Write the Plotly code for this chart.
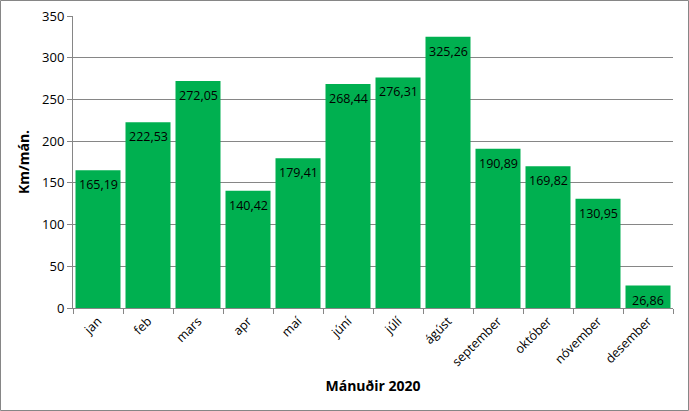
import plotly.graph_objects as go

months = ["jan", "feb", "mars", "apr", "maí", "júní", "júlí", "ágúst",
          "september", "október", "nóvember", "desember"]
km = [165.19, 222.53, 272.05, 140.42, 179.41, 268.44, 276.31, 325.26,
      190.89, 169.82, 130.95, 26.86]
y_ticks = [0, 50, 100, 150, 200, 250, 300, 350]

fig = go.Figure(go.Bar(
    x=months, y=km,
    marker=dict(color="#00B050", line=dict(width=0)),
    cliponaxis=False,
))

for m, v in zip(months, km):
    fig.add_annotation(
        x=m, y=v, text=f"{v:.2f}".replace(".", ","),
        showarrow=False, yanchor="top", yshift=-4,
        font=dict(color="black", size=12.5, family="Open Sans"),
    )

L, R, T, B = 73, 16, 16, 103
W, H = 689, 411
pw, ph = W - L - R, H - T - B

fig.update_layout(
    width=W, height=H,
    margin=dict(l=L, r=R, t=T, b=B, autoexpand=False),
    paper_bgcolor="white", plot_bgcolor="white",
    separators=",.",
    bargap=0.1,
    showlegend=False,
    font=dict(family="Open Sans", color="black"),
    xaxis=dict(
        automargin=False,
        showline=True, linecolor="#868686", linewidth=1,
        ticks="outside", tickson="boundaries", ticklen=5, tickcolor="#868686",
        tickangle=-45, tickfont=dict(size=12.5),
        title=dict(text="<b>Mánuðir 2020</b>", font=dict(size=14), standoff=12),
    ),
    yaxis=dict(
        automargin=False,
        range=[0, 350], tickvals=y_ticks,
        showline=True, linecolor="#868686", linewidth=1,
        ticks="outside", ticklen=5, tickcolor="#868686",
        showgrid=True, gridcolor="#868686", gridwidth=1,
        tickfont=dict(size=13),
        title=dict(text="<b>Km/mán.</b>", font=dict(size=14), standoff=9),
        zeroline=False,
    ),
    shapes=[dict(
        type="rect", xref="paper", yref="paper",
        x0=(0.5 - L) / pw, x1=(W - 0.5 - L) / pw,
        y0=-(B - 0.5) / ph,
        y1=1 + (T - 0.5) / ph,
        line=dict(color="#868686", width=1), fillcolor="rgba(0,0,0,0)",
        layer="above",
    )],
)

fig.write_html("out.html", config={"displayModeBar": False},
               post_script="document.body.style.margin='0';document.body.style.overflow='hidden';")
